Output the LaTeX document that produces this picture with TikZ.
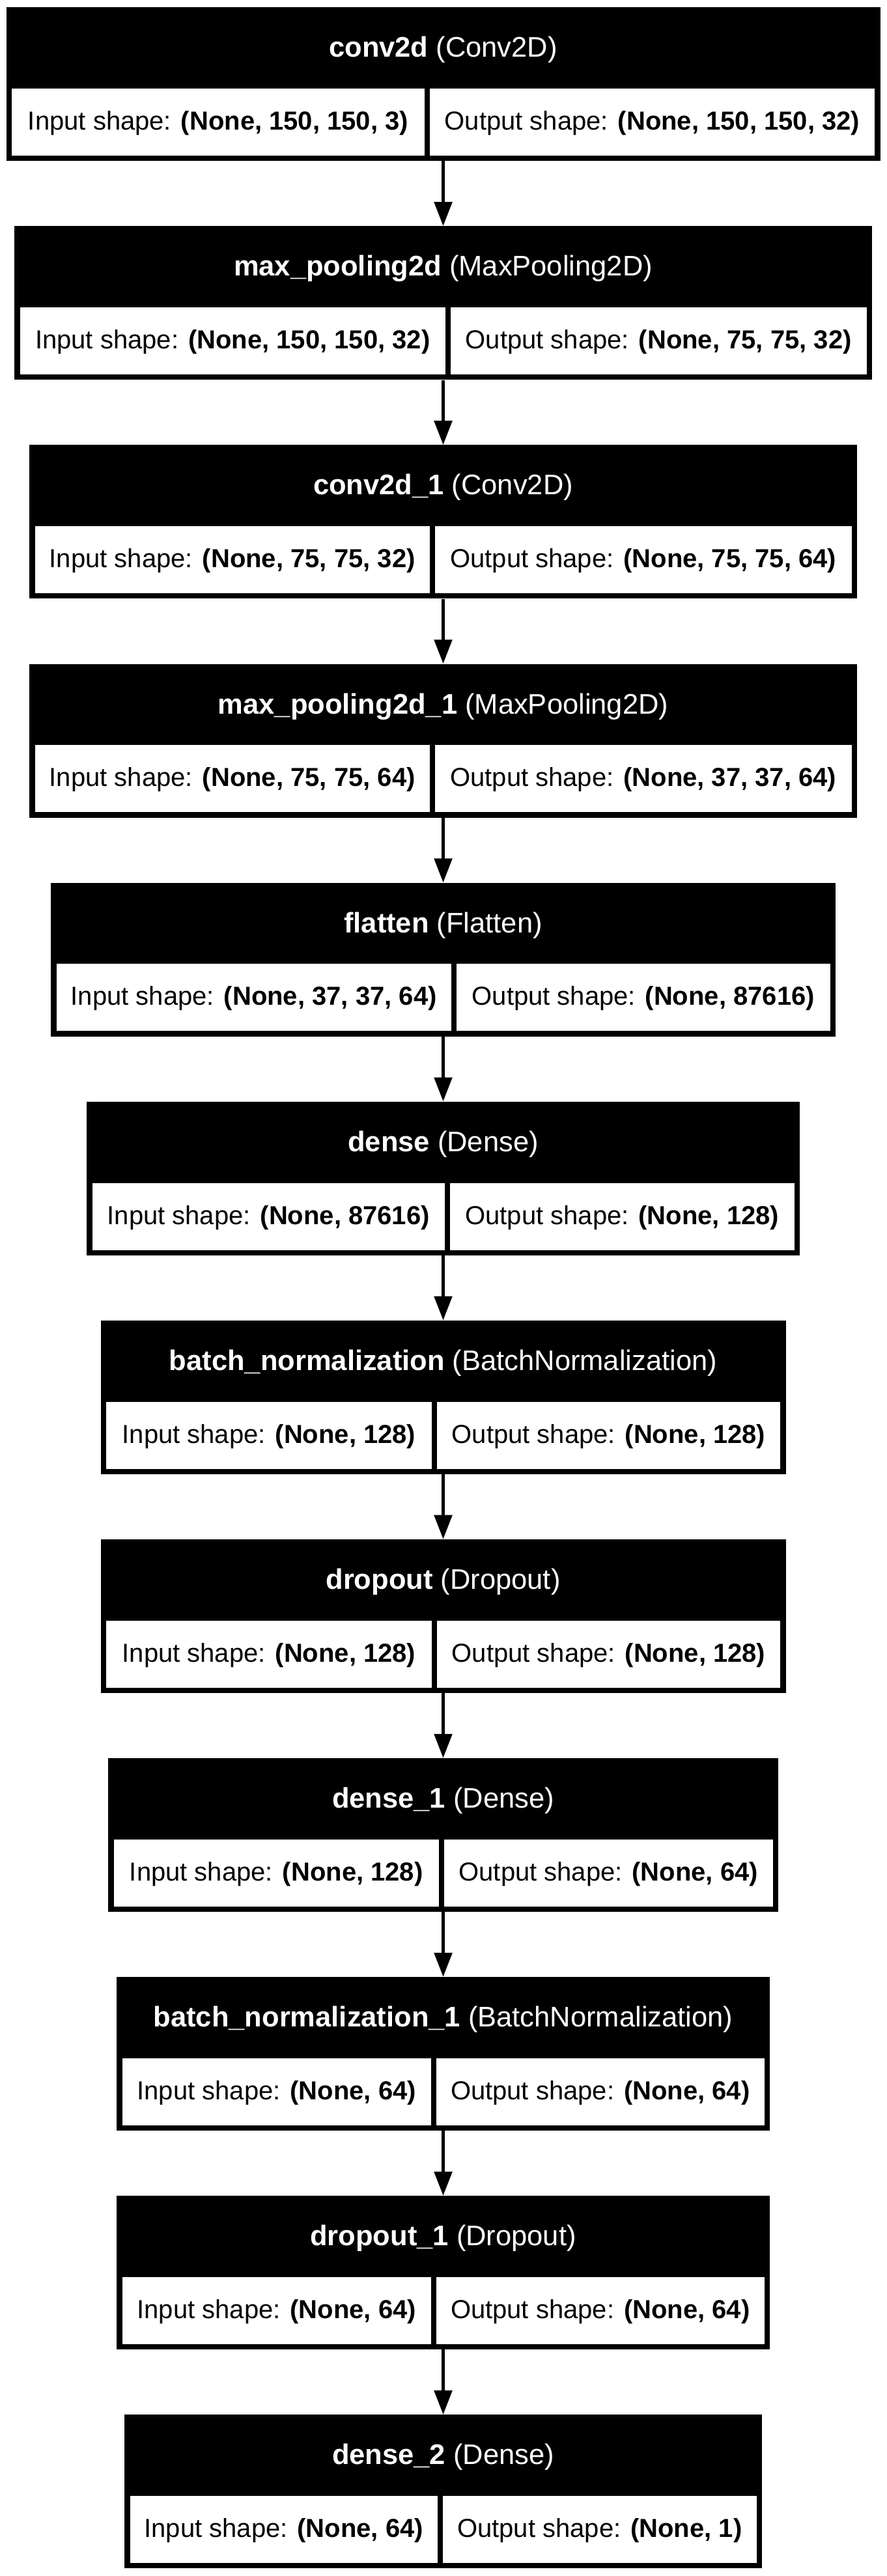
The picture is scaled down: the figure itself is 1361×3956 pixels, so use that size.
\documentclass[tikz,border=0pt]{standalone}
\usepackage{fontspec}
\setmainfont{Liberation Sans}
\usetikzlibrary{arrows.meta}

\tikzset{
  layer/.style={fill=black, inner sep=0pt, minimum height=236pt, anchor=north},
  head/.style={text=white, anchor=base, inner sep=0pt, font=\fontsize{43.5}{52}\selectfont},
  shp/.style={text=black, anchor=base, inner sep=0pt, font=\fontsize{40}{48}\selectfont},
  flow/.style={line width=5.3pt, -{Triangle[length=37pt,width=27pt]}},
}

% name, top, width, divider, layer, class, input, output
\newcommand{\layerbox}[8]{%
  \pgfmathsetmacro{\xl}{680.5-#3/2}
  \pgfmathsetmacro{\xr}{680.5+#3/2}
  \node[layer, minimum width=#3pt] (#1) at (680.5,#2) {};
  \fill[white] (\xl+8.5,#2+125) rectangle (#4-4,#2+228);
  \fill[white] (#4+4,#2+125) rectangle (\xr-8.5,#2+228);
  \node[head] (#1-name) at (680.5,#2+76.7) {\textbf{#5} (#6)};
  \node[shp] (#1-in) at ({(\xl+4.5+#4)/2},#2+188.5) {Input shape: \textbf{#7}};
  \node[shp] (#1-out) at ({(#4+\xr-4.5)/2},#2+188.5) {Output shape: \textbf{#8}};
}

\begin{document}
\begin{tikzpicture}[x=1pt,y=-1pt]
  \useasboundingbox[fill=white] (0,0) rectangle (1361,3956);

  \layerbox{conv}{11}{1342}{656}{conv2d}{Conv2D}{(None, 150, 150, 3)}{(None, 150, 150, 32)}
  \layerbox{pool}{347.1}{1317}{688}{max\_pooling2d}{MaxPooling2D}{(None, 150, 150, 32)}{(None, 75, 75, 32)}
  \layerbox{convb}{683.2}{1271}{664}{conv2d\_1}{Conv2D}{(None, 75, 75, 32)}{(None, 75, 75, 64)}
  \layerbox{poolb}{1019.3}{1271}{664}{max\_pooling2d\_1}{MaxPooling2D}{(None, 75, 75, 64)}{(None, 37, 37, 64)}
  \layerbox{flat}{1355.4}{1205}{697}{flatten}{Flatten}{(None, 37, 37, 64)}{(None, 87616)}
  \layerbox{dense}{1691.5}{1095}{687}{dense}{Dense}{(None, 87616)}{(None, 128)}
  \layerbox{bn}{2027.6}{1052}{667}{batch\_normalization}{BatchNormalization}{(None, 128)}{(None, 128)}
  \layerbox{drop}{2363.7}{1052}{667}{dropout}{Dropout}{(None, 128)}{(None, 128)}
  \layerbox{denseb}{2699.8}{1029}{678}{dense\_1}{Dense}{(None, 128)}{(None, 64)}
  \layerbox{bnb}{3035.9}{1003}{666}{batch\_normalization\_1}{BatchNormalization}{(None, 64)}{(None, 64)}
  \layerbox{dropb}{3372}{1003}{666}{dropout\_1}{Dropout}{(None, 64)}{(None, 64)}
  \layerbox{densec}{3708.1}{979}{676}{dense\_2}{Dense}{(None, 64)}{(None, 1)}

  \draw[flow] (conv.south) -- (pool.north);
  \draw[flow] (pool.south) -- (convb.north);
  \draw[flow] (convb.south) -- (poolb.north);
  \draw[flow] (poolb.south) -- (flat.north);
  \draw[flow] (flat.south) -- (dense.north);
  \draw[flow] (dense.south) -- (bn.north);
  \draw[flow] (bn.south) -- (drop.north);
  \draw[flow] (drop.south) -- (denseb.north);
  \draw[flow] (denseb.south) -- (bnb.north);
  \draw[flow] (bnb.south) -- (dropb.north);
  \draw[flow] (dropb.south) -- (densec.north);
\end{tikzpicture}
\end{document}
